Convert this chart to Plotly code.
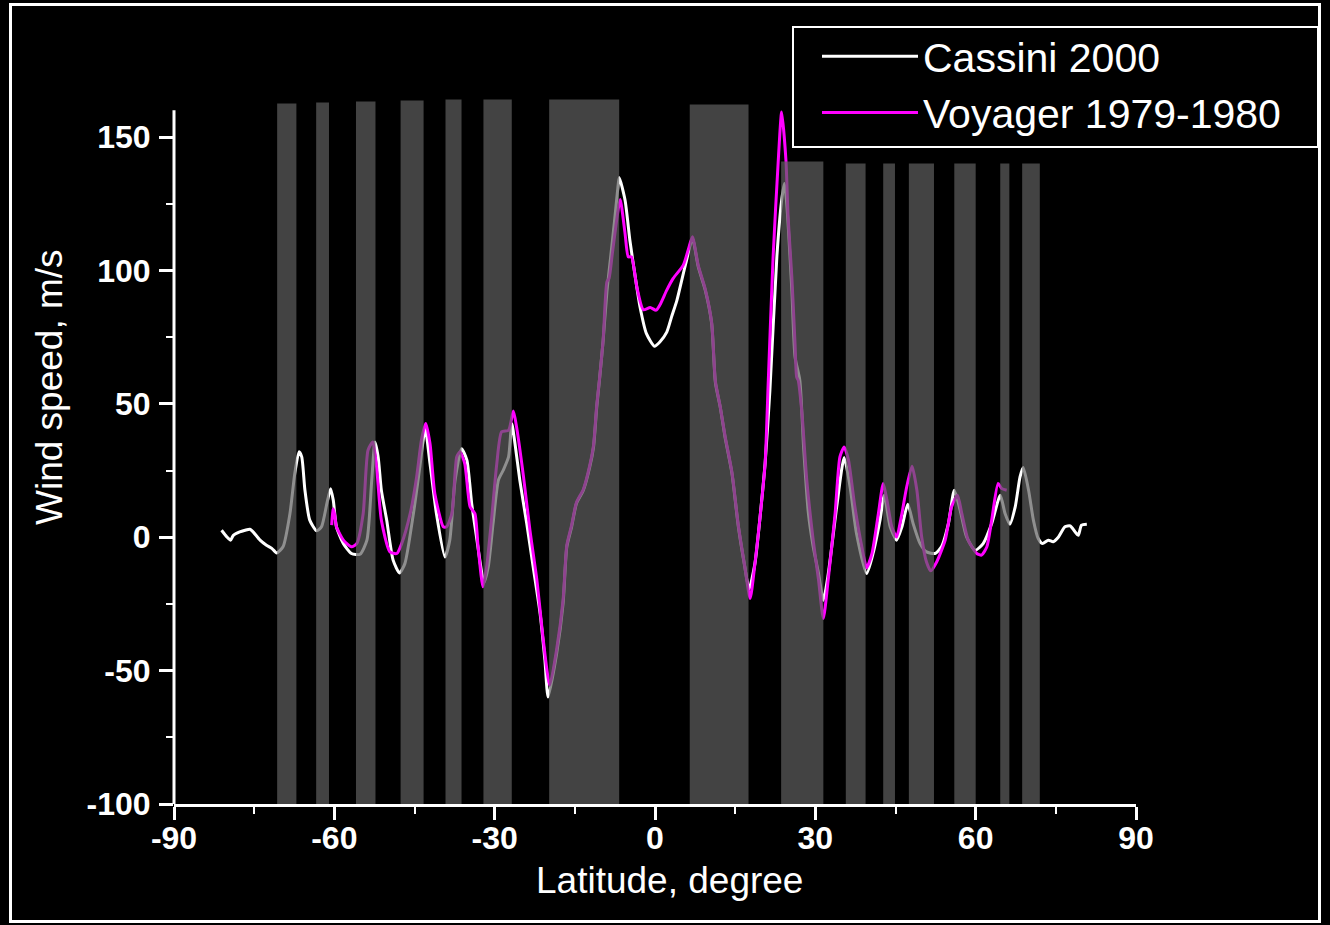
import plotly.graph_objects as go

# ---------------- data ----------------
cassini_lat = [-81.1, -80.1, -79.4, -78.9, -77.7, -76.7, -75.8, -75.2, -73.9, -72.7, -71.7, -70.8,
               -69.6, -68.3, -67.4, -66.6, -66.1, -65.5, -64.6, -63.3, -62.4, -61.4, -60.7, -60.2,
               -59.6, -58.3, -56.8, -55.2, -53.9, -53.0, -52.4, -51.8, -51.2, -50.2, -49.0, -47.8,
               -46.8, -45.2, -44.0, -43.0, -42.1, -40.9, -39.3, -38.4, -37.4, -36.2, -35.2, -34.3,
               -33.4, -32.4, -32.0, -31.2, -30.3, -29.3, -28.4, -27.4, -26.8, -26.2, -25.3, -24.0,
               -22.8, -21.5, -20.6, -20.0, -18.4, -17.2, -16.5, -15.6, -14.7, -13.4, -12.2, -11.5,
               -10.9, -10.4, -9.7, -9.0, -8.3, -7.6, -7.0, -6.7, -5.6, -4.7, -3.7, -2.8,
               -1.6, -0.1, 0.9, 2.2, 3.1, 4.1, 5.0, 5.9, 7.0, 8.1, 9.4, 10.6,
               11.3, 12.2, 13.1, 14.4, 15.6, 16.8, 17.6, 18.7, 19.6, 20.6, 21.5, 22.8,
               23.7, 24.2, 24.6, 25.6, 26.2, 27.1, 27.8, 28.7, 29.6, 30.6, 31.5, 32.4,
               34.0, 35.4, 36.5, 37.7, 39.6, 40.8, 42.1, 42.9, 44.0, 45.2, 46.2, 47.3,
               48.3, 49.6, 50.8, 52.4, 53.6, 54.9, 56.0, 57.1, 58.3, 59.9, 61.4, 63.0,
               64.6, 65.5, 66.4, 67.4, 68.3, 68.9, 69.9, 70.8, 71.7, 72.5, 73.6, 74.5,
               75.5, 76.7, 77.7, 78.6, 79.2, 79.8, 80.8]
cassini_ws = [2.6, 0.1, -1.1, 0.7, 2.0, 2.6, 3.0, 2.0, -1.1, -3.0, -4.2, -5.9,
              -3.6, 8.9, 23.9, 32.0, 30.1, 17.6, 6.4, 2.4, 3.9, 12.6, 18.2, 13.9,
              3.9, -2.4, -6.1, -6.4, -1.1, 21.4, 35.7, 30.1, 17.6, 6.4, -8.6, -13.4,
              -9.9, 8.9, 26.4, 40.7, 27.6, 8.9, -7.4, -1.1, 21.4, 33.2, 28.9, 12.6,
              0.1, -13.6, -17.0, -11.1, 5.1, 21.4, 25.1, 30.1, 42.6, 35.1, 21.4, 5.1,
              -11.1, -28.6, -46.1, -59.9, -43.6, -24.9, -3.6, 3.9, 12.6, 17.6, 26.4, 33.8,
              48.8, 58.8, 73.8, 92.0, 105.0, 118.0, 130.0, 134.8, 126.3, 111.3, 97.6, 86.3,
              76.3, 71.6, 73.2, 76.9, 82.6, 88.8, 96.3, 103.8, 112.0, 101.3, 92.6, 80.1,
              58.0, 48.8, 37.6, 23.9, 3.9, -11.1, -19.5, -9.9, 6.4, 27.6, 55.1, 105.1,
              126.3, 132.6, 126.3, 92.6, 67.6, 58.8, 33.8, 8.9, -3.6, -13.6, -23.6, -14.0,
              11.4, 29.9, 18.9, 1.4, -13.6, -6.1, 6.4, 15.7, 3.9, -1.1, 3.9, 12.4,
              5.1, -2.4, -5.5, -6.1, -3.6, 5.1, 17.6, 10.1, 0.1, -4.9, -2.4, 5.1,
              15.7, 8.9, 4.9, 11.4, 22.6, 26.1, 17.6, 6.4, -0.5, -2.4, -1.1, -1.7,
              0.1, 3.9, 4.2, 2.0, 0.7, 4.5, 4.9]

voyager_lat = [-60.5, -60.2, -59.9, -59.6, -58.3, -56.8, -55.8, -54.6, -53.7, -52.8, -52.1, -51.2,
               -49.6, -48.3, -47.4, -45.8, -44.6, -43.7, -42.9, -42.1, -41.2, -39.6, -39.0, -38.0,
               -37.1, -36.5, -35.6, -34.6, -33.7, -33.1, -32.2, -31.5, -30.6, -29.6, -28.7, -27.4,
               -26.5, -25.9, -24.6, -23.4, -22.1, -20.9, -19.7, -18.4, -17.2, -16.5, -15.6, -14.7,
               -13.4, -12.2, -11.5, -10.9, -10.4, -9.7, -9.0, -8.6, -8.0, -7.3, -6.8, -6.5,
               -5.6, -5.0, -4.4, -3.4, -2.2, -0.9, 0.2, 0.9, 2.2, 3.4, 5.3, 6.2,
               7.0, 8.1, 9.4, 10.6, 11.3, 12.2, 13.1, 14.4, 15.6, 16.8, 17.8, 18.7,
               19.6, 20.6, 21.2, 22.1, 23.1, 23.7, 24.5, 24.9, 25.6, 26.2, 26.5, 26.8,
               27.5, 28.4, 29.6, 30.6, 31.5, 32.4, 33.7, 34.6, 35.4, 36.2, 37.4, 38.7,
               39.6, 40.6, 41.8, 42.7, 43.4, 44.3, 45.2, 46.2, 47.1, 48.1, 49.0, 49.9,
               50.8, 51.6, 52.7, 54.3, 55.5, 56.6, 57.4, 58.6, 60.2, 61.1, 62.1, 63.0,
               64.2, 64.9, 65.8]
voyager_ws = [4.5, 10.7, 8.0, 3.9, -1.1, -3.6, -2.4, 8.9, 32.6, 35.7, 26.4, 6.4,
              -5.5, -6.1, -2.4, 8.9, 22.6, 36.4, 42.6, 35.1, 16.4, 3.9, 3.9, 8.9,
              30.1, 32.0, 27.6, 11.4, 8.9, -3.6, -18.6, -11.1, 6.4, 27.6, 39.5, 40.1,
              47.3, 41.3, 22.6, 2.6, -16.1, -38.6, -55.5, -42.0, -23.5, -3.0, 4.5, 13.0,
              18.0, 27.0, 34.5, 49.5, 59.0, 74.0, 95.7, 97.0, 106.0, 117.0, 124.0, 126.6,
              113.8, 105.1, 105.1, 93.8, 85.3, 86.1, 85.1, 87.0, 92.6, 97.0, 102.0, 107.6,
              112.6, 101.8, 93.0, 80.5, 58.5, 49.0, 38.0, 24.3, 4.3, -11.0, -23.0, -9.9,
              6.4, 27.6, 58.8, 105.1, 142.5, 159.4, 141.3, 120.1, 97.6, 72.6, 60.1, 58.8,
              46.4, 21.4, -1.1, -16.1, -30.5, -16.1, 8.9, 30.1, 33.8, 28.9, 11.4, -3.6,
              -11.5, -6.1, 8.9, 20.1, 13.9, 3.9, 0.1, 8.9, 18.9, 26.6, 17.6, 0.1,
              -9.3, -12.6, -9.3, -1.1, 11.4, 15.7, 8.9, -1.1, -6.1, -6.7, -3.6, 6.4,
              20.1, 18.2, 17.6]

# shaded latitude bands (start, end, top value)
band_start = [-70.7, -63.4, -55.95, -47.6, -39.2, -32.1, -19.8, 6.5, 23.6, 35.7, 42.7, 47.5, 56.0, 64.6, 68.7]
band_end = [-67.1, -61.0, -52.3, -43.3, -36.2, -26.8, -6.7, 17.5, 31.5, 39.4, 44.9, 52.2, 60.0, 66.3, 72.0]
band_top = [162.6, 162.9, 163.3, 163.7, 164.1, 164.1, 164.1, 162.2, 140.8, 140.1, 140.1, 140.1, 140.1, 140.1, 140.1]
band_base = -100

x_ticks = [-90, -60, -30, 0, 30, 60, 90]
x_ticktext = ["-90", "-60", "-30", "0", "30", "60", "90"]
y_ticks = [-100, -50, 0, 50, 100, 150]
y_ticktext = ["-100", "-50", "0", "50", "100", "150"]

FONT = "Arial, 'Liberation Sans', sans-serif"

# ---------------- figure ----------------
fig = go.Figure()
fig.add_trace(go.Scatter(x=cassini_lat, y=cassini_ws, mode="lines", name="Cassini 2000",
                         line=dict(color="#ffffff", width=3, shape="spline", smoothing=0.6)))
fig.add_trace(go.Scatter(x=voyager_lat, y=voyager_ws, mode="lines", name="Voyager 1979-1980",
                         line=dict(color="#ff00ff", width=3, shape="spline", smoothing=0.6)))

bx, by = [], []
for s, e, t in zip(band_start, band_end, band_top):
    bx += [s, s, e, e, s, None]
    by += [band_base, t, t, band_base, band_base, None]
fig.add_trace(go.Scatter(x=bx, y=by, mode="lines", fill="toself",
                         fillcolor="rgba(96,96,96,0.70)", line=dict(width=0),
                         showlegend=False, hoverinfo="skip"))

W, H = 1330, 925
ML, MR, MT, MB = 174, 194, 97, 121
pw, ph = W - ML - MR, H - MT - MB

def px_x(p):
    return (p - ML) / pw

def px_y(p):
    return (H - MB - p) / ph

fig.update_layout(
    width=W, height=H,
    margin=dict(l=ML, r=MR, t=MT, b=MB, pad=0),
    paper_bgcolor="black", plot_bgcolor="black",
    font=dict(family=FONT, color="white"),
    showlegend=True,
    legend=dict(x=px_x(817), y=px_y(23), xanchor="left", yanchor="top",
                bgcolor="rgba(0,0,0,0)", borderwidth=0,
                font=dict(size=41, color="white", family=FONT),
                itemwidth=96, tracegroupgap=0),
    xaxis=dict(range=[-90, 90], tickvals=x_ticks, ticktext=x_ticktext,
               ticks="outside", ticklen=13, tickwidth=3,
               tickcolor="white", showline=True, linecolor="white", linewidth=3,
               showgrid=False, zeroline=False, ticklabelstandoff=-9,
               tickfont=dict(size=32, color="white", family=FONT, weight="bold"),
               minor=dict(dtick=15, tick0=0, ticks="outside", ticklen=7, tickwidth=2,
                          tickcolor="white", showgrid=False)),
    yaxis=dict(range=[-100, 165], tickvals=y_ticks, ticktext=y_ticktext,
               ticks="outside", ticklen=14, tickwidth=3,
               tickcolor="white", showline=False, showgrid=False, zeroline=False,
               ticklabelstandoff=2,
               tickfont=dict(size=32, color="white", family=FONT, weight="bold"),
               minor=dict(dtick=25, tick0=0, ticks="outside", ticklen=7, tickwidth=2,
                          tickcolor="white", showgrid=False)),
    shapes=[
        # y axis line up to 160
        dict(type="line", xref="paper", yref="y", x0=0, x1=0, y0=-100, y1=160,
             line=dict(color="white", width=3)),
        # legend box
        dict(type="rect", xref="paper", yref="paper",
             x0=px_x(793), x1=px_x(1318), y0=px_y(147), y1=px_y(27),
             line=dict(color="white", width=2), fillcolor="rgba(0,0,0,0)"),
        # outer white frame
        dict(type="rect", xref="paper", yref="paper",
             x0=px_x(10.5), x1=px_x(1319.5), y0=px_y(921.5), y1=px_y(4.5),
             line=dict(color="white", width=3), fillcolor="rgba(0,0,0,0)"),
    ],
    annotations=[
        dict(text="Latitude, degree", xref="paper", yref="paper", x=px_x(669.5), y=px_y(880),
             xanchor="center", yanchor="middle", showarrow=False,
             font=dict(size=37, color="white", family=FONT)),
        dict(text="Wind speed, m/s", xref="paper", yref="paper", x=px_x(50), y=px_y(387),
             xanchor="center", yanchor="middle", showarrow=False, textangle=-90,
             font=dict(size=37, color="white", family=FONT)),
    ],
)

fig.write_html("out.html")
